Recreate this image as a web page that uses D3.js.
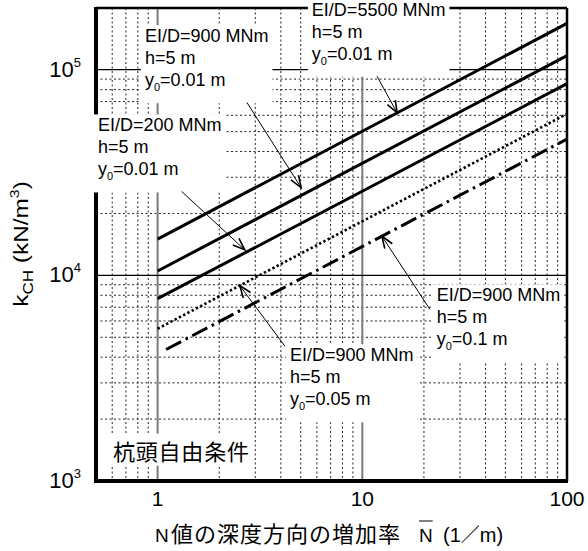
<!DOCTYPE html>
<html>
<head>
<meta charset="utf-8">
<script src="https://cdn.jsdelivr.net/npm/d3@7"></script>
<style>
  body { margin: 0; background: #fff; }
  svg { display: block; }
</style>
</head>
<body>
<div id="chart"></div>
<script>
// each curve is straight on log-log axes: start and end
var curveNames = ['EI/D=5500', 'EI/D=900 y0=0.01', 'EI/D=200', 'EI/D=900 y0=0.05', 'EI/D=900 y0=0.1'];
var startN = [1, 1, 1, 1, 1.1];
var endN = [100, 100, 100, 100, 100];
var startK = [15000, 10500, 7700, 5500, 4360];
var endK = [168000, 117000, 85500, 61000, 46000];

var xTicks = [1, 10, 100];
var yExps = [3, 4, 5];

// annotation texts, one per curve
var labelEI = ['EI/D=5500 MNm', 'EI/D=900 MNm', 'EI/D=200 MNm', 'EI/D=900 MNm', 'EI/D=900 MNm'];
var labelH = ['h=5 m', 'h=5 m', 'h=5 m', 'h=5 m', 'h=5 m'];
var labelY0 = ['0.01', '0.01', '0.01', '0.05', '0.1'];
// where the labels sit and where the arrows start / hit the curve (data units)
var labelN = [5.67, 0.867, 0.511, 4.43, 23.1];
var labelK = [183000, 136000, 50100, 3820, 7470];
var arrowFromN = [11.8, 2.73, 1.31, 4.19, 21.4];
var arrowFromK = [92900, 69300, 25600, 4520, 6830];
var arrowToN = [14.8, 5.24, 2.73, 2.52, 12.47];

var conditionText = '杭頭自由条件';

var W = 588, H = 551;
var margin = { top: 8, right: 21, bottom: 70, left: 96 };
var width = W - margin.left - margin.right,
    height = H - margin.top - margin.bottom;

var latin = '"Liberation Sans", Arial, Helvetica, sans-serif';
var cjk = '"Noto Sans CJK JP", "Noto Sans CJK SC", sans-serif';

var x = d3.scaleLog().domain([0.5, 100]).range([0, width]);
var y = d3.scaleLog().domain([1000, Math.pow(10, 5.3)]).range([height, 0]);

function curveK(i, n) {
  var t = (Math.log10(n) - Math.log10(startN[i])) / (Math.log10(endN[i]) - Math.log10(startN[i]));
  return Math.pow(10, Math.log10(startK[i]) + t * (Math.log10(endK[i]) - Math.log10(startK[i])));
}

var svg = d3.select('#chart').append('svg')
  .attr('width', W)
  .attr('height', H)
  .style('background', '#fff');

var g = svg.append('g')
  .attr('transform', 'translate(' + margin.left + ',' + margin.top + ')');

// minor grid (dotted)
var minorX = [], minorY = [];
[0.1, 1, 10].forEach(function(dec) {
  for (var m = 2; m <= 9; m++) {
    var v = m * dec;
    if (v > 0.5 && v < 100) minorX.push(v);
  }
});
[1000, 10000].forEach(function(dec) {
  for (var m = 2; m <= 9; m++) minorY.push(m * dec);
});

g.append('g').selectAll('line').data(minorX).enter().append('line')
  .attr('x1', d => x(d)).attr('x2', d => x(d))
  .attr('y1', 0).attr('y2', height)
  .attr('stroke', '#222').attr('stroke-width', 1).attr('stroke-dasharray', '2,2.5');

g.append('g').selectAll('line').data(minorY).enter().append('line')
  .attr('x1', 0).attr('x2', width)
  .attr('y1', d => y(d)).attr('y2', d => y(d))
  .attr('stroke', '#222').attr('stroke-width', 1).attr('stroke-dasharray', '2,2.5');

// major grid
g.append('g').selectAll('line').data([1, 10]).enter().append('line')
  .attr('x1', d => x(d)).attr('x2', d => x(d))
  .attr('y1', 0).attr('y2', height)
  .attr('stroke', '#7a7a7a').attr('stroke-width', 2);

g.append('g').selectAll('line').data([1e4, 1e5]).enter().append('line')
  .attr('x1', 0).attr('x2', width)
  .attr('y1', d => y(d)).attr('y2', d => y(d))
  .attr('stroke', '#000').attr('stroke-width', 1.3);

// frame: heavy left and bottom, lighter top and right
g.append('line').attr('x1', 0).attr('x2', width).attr('y1', 0).attr('y2', 0)
  .attr('stroke', '#000').attr('stroke-width', 2.5);
g.append('line').attr('x1', width).attr('x2', width).attr('y1', 0).attr('y2', height)
  .attr('stroke', '#000').attr('stroke-width', 2.5);
g.append('line').attr('x1', 0).attr('x2', 0).attr('y1', -1).attr('y2', height + 2)
  .attr('stroke', '#000').attr('stroke-width', 4);
g.append('line').attr('x1', -2).attr('x2', width + 1).attr('y1', height).attr('y2', height)
  .attr('stroke', '#000').attr('stroke-width', 4);

// tick labels
g.append('g').selectAll('text').data(xTicks).enter().append('text')
  .attr('x', d => x(d)).attr('y', height + 25)
  .attr('text-anchor', 'middle')
  .style('font-family', latin).style('font-size', '21px')
  .text(d => d);

var yt = g.append('g').selectAll('text').data(yExps).enter().append('text')
  .attr('x', -15).attr('y', d => y(Math.pow(10, d)) + 7)
  .attr('text-anchor', 'end')
  .style('font-family', latin).style('font-size', '22px');
yt.append('tspan').text('10');
yt.append('tspan').attr('dy', -10).style('font-size', '13px').text(d => d);

// annotation boxes and texts
var labels = g.append('g');
var boxes = labels.append('g');
var texts = labels.append('g');

curveNames.forEach(function(name, i) {
  var lx = x(labelN[i]), ly = y(labelK[i]);
  var t = texts.append('g').attr('class', 'lab')
    .style('font-family', latin).style('font-size', '18px');
  t.append('text').attr('x', lx).attr('y', ly).text(labelEI[i]);
  t.append('text').attr('x', lx).attr('y', ly + 22).text(labelH[i]);
  var t3 = t.append('text').attr('x', lx).attr('y', ly + 44);
  t3.append('tspan').text('y');
  t3.append('tspan').attr('dy', 5).style('font-size', '11px').text('0');
  t3.append('tspan').attr('dy', -5).text('=' + labelY0[i] + ' m');
  var bb = t.node().getBBox();
  var right = Math.min(bb.x + bb.width + 4, width - 2);
  boxes.append('rect')
    .attr('x', bb.x - 4).attr('y', bb.y - 1)
    .attr('width', right - bb.x + 4).attr('height', bb.height + 11)
    .attr('fill', '#fff');
});

var cond = texts.append('text')
  .attr('x', x(0.605)).attr('y', y(1270))
  .style('font-family', cjk).style('font-size', '22px')
  .attr('letter-spacing', 0.8)
  .text(conditionText);
var cb = cond.node().getBBox();
boxes.append('rect')
  .attr('x', cb.x - 2).attr('y', cb.y)
  .attr('width', cb.width + 4).attr('height', cb.height)
  .attr('fill', '#fff');

// curves
var lineGen = d3.line().x(d => x(d[0])).y(d => y(d[1]));
var dashes = [null, null, null, '2.4,2.4', '17,5,2.5,5'];
var widths = [3, 3, 3, 2.6, 3];
g.append('g').selectAll('path').data(curveNames).enter().append('path')
  .attr('d', (d, i) => lineGen([[startN[i], startK[i]], [endN[i], endK[i]]]))
  .attr('fill', 'none')
  .attr('stroke', '#000')
  .attr('stroke-width', (d, i) => widths[i])
  .attr('stroke-dasharray', (d, i) => dashes[i]);

// arrows
var backoff = [0, 7, 3, 0, 0];
var arrows = g.append('g');
curveNames.forEach(function(name, i) {
  var x0 = x(arrowFromN[i]), y0 = y(arrowFromK[i]);
  var x1 = x(arrowToN[i]), y1 = y(curveK(i, arrowToN[i]));
  var dx = x1 - x0, dy = y1 - y0, len = Math.sqrt(dx * dx + dy * dy);
  var ux = dx / len, uy = dy / len;
  x1 -= ux * backoff[i]; y1 -= uy * backoff[i];
  arrows.append('line')
    .attr('x1', x0).attr('y1', y0).attr('x2', x1).attr('y2', y1)
    .attr('stroke', '#000').attr('stroke-width', 1);
  var hl = 12, hw = 4.5;
  var bx = x1 - ux * hl, by = y1 - uy * hl;
  arrows.append('path')
    .attr('d', 'M' + (bx - uy * hw) + ',' + (by + ux * hw) +
               'L' + x1 + ',' + y1 +
               'L' + (bx + uy * hw) + ',' + (by - ux * hw))
    .attr('fill', 'none').attr('stroke', '#000').attr('stroke-width', 1.6);
});

// axis titles
var yTitle = svg.append('text')
  .attr('transform', 'translate(28,244) rotate(-90) scale(1.22,1)')
  .attr('text-anchor', 'middle')
  .style('font-family', latin).style('font-size', '20px');
yTitle.append('tspan').text('k');
yTitle.append('tspan').attr('dy', 5).style('font-size', '14px').text('CH');
yTitle.append('tspan').attr('dy', -5).text(' (kN/m');
yTitle.append('tspan').attr('dy', -9).style('font-size', '13px').text('3');
yTitle.append('tspan').attr('dy', 9).text(')');

var xTitle = svg.append('text')
  .attr('y', 542)
  .style('font-size', '22px').style('font-family', cjk);
xTitle.append('tspan').attr('x', 155).style('font-family', latin).style('font-size', '19px').text('N');
xTitle.append('tspan').attr('x', 171).attr('letter-spacing', 1).text('値の深度方向の増加率');
xTitle.append('tspan').attr('x', 419).style('font-family', latin).style('font-size', '19px').text('N');
xTitle.append('tspan').attr('x', 443).style('font-family', latin).style('font-size', '20px').text('(1');
xTitle.append('tspan').style('font-size', '19px').text('／');
xTitle.append('tspan').style('font-family', latin).style('font-size', '20px').text('m)');

// overline on the second N
var ext = xTitle.node().getExtentOfChar(11);
svg.append('line')
  .attr('x1', ext.x).attr('x2', ext.x + ext.width)
  .attr('y1', 521).attr('y2', 521)
  .attr('stroke', '#000').attr('stroke-width', 1);
</script>
</body>
</html>
